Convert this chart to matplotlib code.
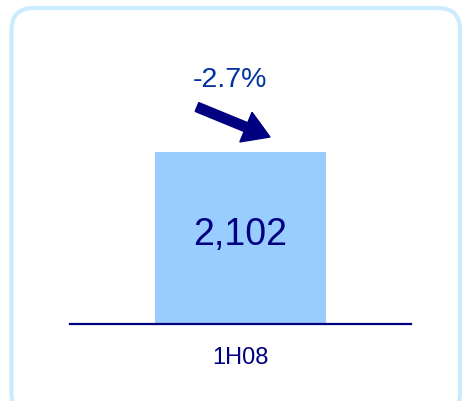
import matplotlib
matplotlib.use("Agg")
import matplotlib.pyplot as plt
from matplotlib.patches import FancyBboxPatch, FancyArrow

plt.rcParams['font.family'] = ['Liberation Sans', 'DejaVu Sans']

categories = ["1H08"]
values = [2102]
value_labels = ["2,102"]
change_label = "-2.7%"

W, H = 464, 402
fig = plt.figure(figsize=(W / 100, H / 100), dpi=100)

def px(x, y):
    return x / 100, (H - y) / 100

# rounded border
bx0, by0 = px(11.5, 416)
bx1, by1 = px(460, 9)
border = FancyBboxPatch((bx0, by0), bx1 - bx0, by1 - by0,
                        boxstyle="round,pad=0,rounding_size=0.22",
                        transform=fig.dpi_scale_trans, facecolor='none',
                        edgecolor='#CCEBFF', linewidth=3.0, zorder=-1)
fig.patches.append(border)

# axes: baseline from x=70 to 411 px, y=324 px; top at 40 px
ax_left, ax_right = 70, 411
ax_bottom, ax_top = 325, 40
ax = fig.add_axes([ax_left / W, (H - ax_bottom) / H,
                   (ax_right - ax_left) / W, (ax_bottom - ax_top) / H])
ax.patch.set_alpha(0)
bar_top_px = 153
ymax = values[0] * (ax_bottom - ax_top) / (ax_bottom - bar_top_px)
ax.set_ylim(0, ymax)
ax.set_xlim(-0.5, 0.5)

x = list(range(len(categories)))
ax.bar(x, values, width=0.5, color='#99CCFF', zorder=1)
for xi, v, lab in zip(x, values, value_labels):
    ax.text(xi, v * 0.525, lab, ha='center', va='center', fontsize=27,
            color='#000080')

for s in ['top', 'left', 'right']:
    ax.spines[s].set_visible(False)
ax.spines['bottom'].set_color('#000080')
ax.spines['bottom'].set_linewidth(1.6)
ax.spines['bottom'].set_zorder(3)
ax.set_yticks([])
ax.set_xticks(x)
ax.set_xticklabels(categories, fontsize=17, color='#000080')
ax.tick_params(axis='x', length=0, pad=16)

# change label and arrow
fig.text(229.5 / W, 1 - 80 / H, change_label, ha='center', va='center',
         fontsize=20.5, color='#0033A0')
sx, sy = px(197, 108)
ex, ey = px(270, 138)
arrow = FancyArrow(sx, sy, ex - sx, ey - sy, width=0.095, head_width=0.32,
                   head_length=0.26, length_includes_head=True,
                   transform=fig.dpi_scale_trans, color='#000080', zorder=5)
fig.patches.append(arrow)

fig.savefig("out.png", dpi=100)
